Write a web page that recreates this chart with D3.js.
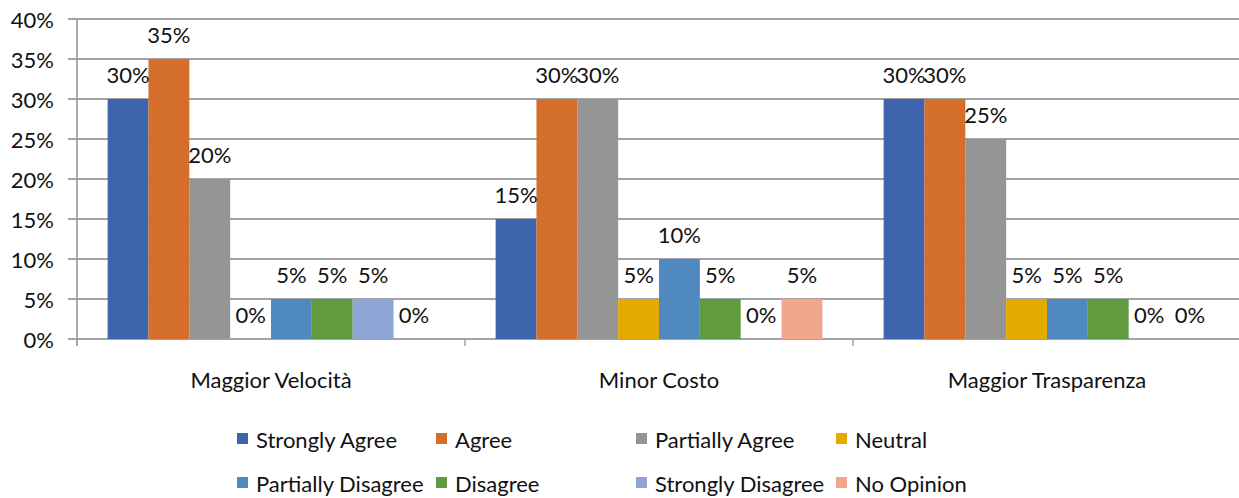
<!DOCTYPE html>
<html>
<head>
<meta charset="utf-8">
<script src="https://cdn.jsdelivr.net/npm/d3@7/dist/d3.min.js"></script>
<style>
  html, body { margin: 0; padding: 0; background: #fff; }
  svg { display: block; }
  text { font-family: Lato, "Open Sans", sans-serif; fill: #111; }
</style>
</head>
<body>
<svg id="chart" width="1239" height="498"></svg>
<script>
// Survey responses per benefit, share of respondents
const categories = ["Maggior Velocità", "Minor Costo", "Maggior Trasparenza"];
const seriesNames = ["Strongly Agree", "Agree", "Partially Agree", "Neutral",
                     "Partially Disagree", "Disagree", "Strongly Disagree", "No Opinion"];
const seriesColors = ["#3D64AD", "#D46E2B", "#959595", "#E3AA00",
                      "#4F89BF", "#609B3F", "#8FA5D6", "#F1A88A"];
const strongAgree      = [0.30, 0.15, 0.30];
const agree            = [0.35, 0.30, 0.30];
const partiallyAgree   = [0.20, 0.30, 0.25];
const neutral          = [0.00, 0.05, 0.05];
const partialDisagree  = [0.05, 0.10, 0.05];
const disagree         = [0.05, 0.05, 0.05];
const strongDisagree   = [0.05, 0.00, 0.00];
const noOpinion        = [0.00, 0.05, 0.00];
const yTicks = [0, 0.05, 0.10, 0.15, 0.20, 0.25, 0.30, 0.35, 0.40];

const seriesValues = [strongAgree, agree, partiallyAgree, neutral,
                      partialDisagree, disagree, strongDisagree, noOpinion];

const svg = d3.select("#chart");
const fontSize = 22;
const gridColor = "#A3A3A3";

const plotLeft = 77, plotRight = 1241, plotTop = 19, plotBottom = 339;

const y = d3.scaleLinear().domain([0, 0.40]).range([plotBottom, plotTop]);
const x0 = d3.scaleBand().domain(categories).range([plotLeft, plotRight]).padding(0);
const x1 = d3.scaleBand().domain(seriesNames).range([0, x0.bandwidth()])
  .paddingInner(0).paddingOuter(0.75);

const pct = d3.format(".0%");

// Horizontal gridlines with tick stubs on the left
const grid = svg.append("g");
grid.selectAll("line").data(yTicks).join("line")
  .attr("x1", plotLeft - 9).attr("x2", plotRight)
  .attr("y1", d => y(d)).attr("y2", d => y(d))
  .attr("stroke", gridColor).attr("stroke-width", 1.8);

// Y tick labels
svg.append("g").selectAll("text").data(yTicks).join("text")
  .attr("x", 54).attr("y", d => y(d))
  .attr("text-anchor", "end").attr("dominant-baseline", "central")
  .attr("font-size", fontSize)
  .text(d => pct(d));

// Vertical axis line
svg.append("line")
  .attr("x1", plotLeft).attr("x2", plotLeft)
  .attr("y1", plotTop).attr("y2", plotBottom + 7)
  .attr("stroke", gridColor).attr("stroke-width", 1.8);

// Category separators below the baseline
const catEdges = categories.map(c => x0(c)).concat([plotRight]);
svg.append("g").selectAll("line").data(catEdges).join("line")
  .attr("x1", d => d).attr("x2", d => d)
  .attr("y1", plotBottom).attr("y2", plotBottom + 7)
  .attr("stroke", gridColor).attr("stroke-width", 1.5);

// Bars and value labels
const rows = [];
categories.forEach((c, ci) => {
  seriesNames.forEach((s, si) => {
    rows.push({ cat: c, series: s, value: seriesValues[si][ci], color: seriesColors[si] });
  });
});

const groups = svg.append("g");
groups.selectAll("rect").data(rows).join("rect")
  .attr("x", d => x0(d.cat) + x1(d.series))
  .attr("width", x1.bandwidth())
  .attr("y", d => y(d.value))
  .attr("height", d => y(0) - y(d.value))
  .attr("fill", d => d.color);

groups.selectAll("text").data(rows).join("text")
  .attr("x", d => x0(d.cat) + x1(d.series) + x1.bandwidth() / 2)
  .attr("y", d => y(d.value) - 16)
  .attr("text-anchor", "middle")
  .attr("font-size", fontSize)
  .text(d => pct(d.value));

// Category labels
svg.append("g").selectAll("text").data(categories).join("text")
  .attr("x", d => x0(d) + x0.bandwidth() / 2)
  .attr("y", 388)
  .attr("text-anchor", "middle")
  .attr("font-size", fontSize)
  .text(d => d);

// Legend: two rows of four entries
const legendCols = [237, 436, 636, 836];
const legendRows = [439, 483];
const legend = svg.append("g");
seriesNames.forEach((s, i) => {
  const lx = legendCols[i % 4], ly = legendRows[Math.floor(i / 4)];
  legend.append("rect")
    .attr("x", lx).attr("y", ly - 6)
    .attr("width", 11).attr("height", 11)
    .attr("fill", seriesColors[i]);
  legend.append("text")
    .attr("x", lx + 19).attr("y", ly)
    .attr("dominant-baseline", "central")
    .attr("font-size", fontSize)
    .text(s);
});
</script>
</body>
</html>
